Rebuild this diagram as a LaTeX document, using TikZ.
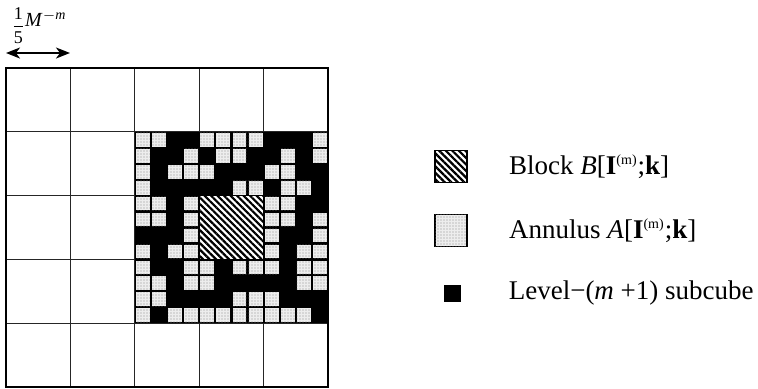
\documentclass[tikz,border=0pt]{standalone}
\usepackage{amsmath}
\usepackage{fontspec}
\setmainfont{Liberation Serif}
\usetikzlibrary{positioning,patterns.meta,arrows.meta}

\begin{document}
\begin{tikzpicture}[x=0.5pt, y=-0.5pt, >={Stealth[length=7pt,width=5.5pt,inset=2pt]},
  gridline/.style={line width=0.6pt, black!85},
  dotcell/.style={fill=black!7, postaction={pattern={Dots[distance=1.5pt,radius=0.3pt]}, pattern color=black!45}},
  hatchbox/.style={draw, line width=0.8pt, fill=white, postaction={pattern={Lines[angle=-45,distance=2.3pt,line width=1.1pt]}}},
  keytext/.style={inner sep=0pt, font=\fontsize{13.5}{16}\selectfont}]
  \useasboundingbox (0,0) rectangle (758,388);

  % Big grid
  \foreach \i in {1,...,4} {
    \draw[gridline] ({6+64.4*\i},68) -- ({6+64.4*\i},387);
    \draw[gridline] (6,{68+63.8*\i}) -- (328,{68+63.8*\i});
  }

  % Level-(m+1) subcubes and annulus cells
  \fill (134.8,131.8) rectangle (328,323.2);
  \foreach \r/\cols in {0/{0,1,4,5,6,7,11}, 1/{0,3,5,6,9,11}, 2/{0,2,3,4,8,9},
      3/{0,6,7,9,10}, 4/{0,1,3,8,9}, 5/{0,1,3,8,9,11}, 6/{3,8,11},
      7/{0,2,3,8,10,11}, 8/{0,3,4,6,7,8,10,11}, 9/{0,1,3,4,10,11},
      10/{0,1,6,7,8}, 11/{0,2,3,4,5,6,7,8,9,10}} {
    \foreach \c in \cols
      \fill[dotcell] ({134.8+16.1*\c+1.1},{131.8+15.95*\r+1.1}) rectangle ++(13.9,13.75);
  }

  % Block
  \node[hatchbox, minimum width=32.2pt, minimum height=31.9pt] (block) at (231.4,227.5) {};

  % Outer frame
  \draw[line width=1pt] (6,68) rectangle (328,387);

  % Scale mark
  \coordinate (arrL) at (6,53);
  \coordinate (arrR) at (70,53);
  \draw[<->, line width=0.9pt] (arrL) -- (arrR);
  \node[font=\fontsize{10}{12}\selectfont, anchor=south west, inner sep=0pt] (scale) at (11,44)
    {{\fontsize{9}{11}\selectfont$\dfrac{\text{1}}{\text{5}}$}\raisebox{2.25pt}{\textit{M}\textsuperscript{$-$\textit{m}}}};

  % Legend
  \node[hatchbox, minimum size=16pt] (blockkey) at (451,166.5) {};
  \node[draw, dotcell, line width=0.8pt, minimum size=16pt] (annkey) at (451,230.5) {};
  \node[fill, minimum size=8.5pt, inner sep=0pt] (cubekey) at (452.5,293) {};
  \node[keytext, right=20.5pt of blockkey] (blocktext)
    {Block \textit{B}[\textbf{I}\textsuperscript{\fontsize{7}{8}\selectfont(m)};\textbf{k}]};
  \node[keytext, right=20.5pt of annkey] (anntext)
    {Annulus \textit{A}[\textbf{I}\textsuperscript{\fontsize{7}{8}\selectfont(m)};\textbf{k}]};
  \node[keytext, right=23.5pt of cubekey] (cubetext)
    {Level−(\textit{m} +1) subcube};
\end{tikzpicture}
\end{document}
